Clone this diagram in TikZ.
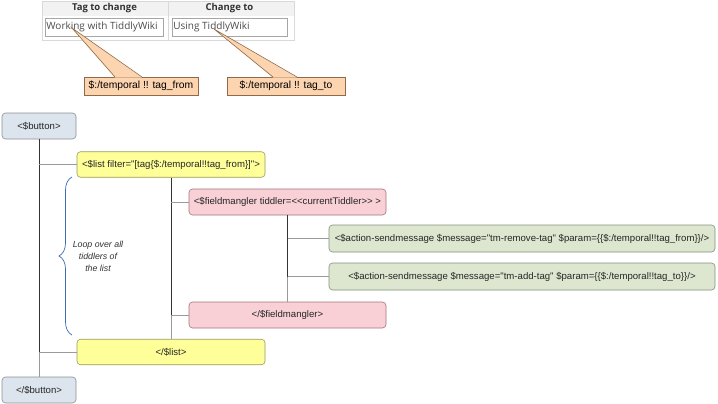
\documentclass[tikz,border=0pt]{standalone}
\usepackage{fontspec}
\setmainfont{Liberation Sans}[Ligatures=TeXOff]
\newfontfamily\uifont{Open Sans}[Ligatures=TeXOff]
\usetikzlibrary{decorations.pathreplacing}
\definecolor{btnfill}{HTML}{DCE4EE}
\definecolor{btndraw}{HTML}{8A8F96}
\definecolor{listfill}{HTML}{FFFF99}
\definecolor{listdraw}{HTML}{9A9A5C}
\definecolor{fmfill}{HTML}{F8D0D6}
\definecolor{fmdraw}{HTML}{A0767D}
\definecolor{actfill}{HTML}{DDE7CF}
\definecolor{actdraw}{HTML}{82907A}
\definecolor{callfill}{HTML}{FCD5B0}
\definecolor{calldraw}{HTML}{8E6A48}
\definecolor{bracecol}{HTML}{3D6BB5}
\definecolor{trunkcol}{HTML}{333333}
\definecolor{branchcol}{HTML}{9A9A9A}
\tikzset{
  box/.style={rectangle, rounded corners=3.5pt, inner sep=0pt, font=\fontsize{9.6}{11}\selectfont, text=black!85, line width=0.6pt},
  btnbox/.style={box, fill=btnfill, draw=btndraw, minimum width=74pt, minimum height=26pt},
  listbox/.style={box, fill=listfill, draw=listdraw, minimum width=188pt, minimum height=25.5pt},
  fmbox/.style={box, fill=fmfill, draw=fmdraw, minimum width=197pt, minimum height=26pt},
  actbox/.style={box, fill=actfill, draw=actdraw, minimum width=386pt, minimum height=27pt},
  callbox/.style={rectangle, fill=callfill, draw=calldraw, line width=0.6pt, inner sep=0pt, minimum height=18pt, font=\fontsize{10.3}{11}\selectfont},
  trunk/.style={draw=trunkcol, line width=0.7pt},
  branch/.style={draw=branchcol, line width=0.6pt},
  uihead/.style={font=\uifont\bfseries\fontsize{9.5}{10}\selectfont, text=black!80, inner sep=0pt},
  uitext/.style={font=\uifont\fontsize{10}{11}\selectfont, text=black!70, inner sep=0pt, anchor=west},
  inputbox/.style={draw=black!35, fill=white, line width=0.6pt, inner sep=0pt},
}
\begin{document}
\begin{tikzpicture}[x=1pt, y=-1pt]
\useasboundingbox[fill=white] (0,0) rectangle (718,404);

% --- top UI panel ---
\fill[black!5] (42,1) rectangle (294,16);
\draw[black!15, line width=0.6pt] (42,1) rectangle (294,40);
\draw[black!15, line width=0.6pt] (168,1) -- (168,40);
\node[uihead] (h1) at (104.5,8.5) {Tag to change};
\node[uihead] (h2) at (229.5,8.5) {Change to};
\node[inputbox, minimum width=118pt, minimum height=18pt] (in1) at (104,27) {};
\node[inputbox, minimum width=115pt, minimum height=18pt] (in2) at (229.5,27) {};
\node[uitext] (t1) at (in1.west) [xshift=1.5pt] {Working with TiddlyWiki};
\node[uitext] (t2) at (in2.west) [xshift=1.5pt] {Using TiddlyWiki};

% --- callouts ---
\coordinate (tip1) at (72,28);
\coordinate (tip2) at (214,29);
\node[callbox, minimum width=114pt] (c1) at (141,86) {\$:/temporal !! tag\_from};
\node[callbox, minimum width=118pt] (c2) at (286,86) {\$:/temporal !! tag\_to};
\fill[callfill] (tip1) -- (115,77.6) -- (142,77.6) -- cycle;
\draw[calldraw, line width=0.6pt] (115,77) -- (tip1) -- (142,77);
\fill[callfill] (tip2) -- (273,77.6) -- (297,77.6) -- cycle;
\draw[calldraw, line width=0.6pt] (273,77) -- (tip2) -- (297,77);

% --- tree nodes ---
\node[btnbox] (button) at (39,126) {<\$button>};
\node[listbox] (list) at (171,164.5) {<\$list filter="[tag\{\$:/temporal!!tag\_from\}]">};
\node[fmbox] (fm) at (287.5,202) {<\$fieldmangler tiddler=<<currentTiddler>{}> >};
\node[actbox] (a1) at (522,238.5) {<\$action-sendmessage \$message="tm-remove-tag" \$param=\{\{\$:/temporal!!tag\_from\}\}/>};
\node[actbox] (a2) at (522,276.5) {<\$action-sendmessage \$message="tm-add-tag" \$param=\{\{\$:/temporal!!tag\_to\}\}/>};
\node[fmbox] (efm) at (287.5,315) {</\$fieldmangler>};
\node[listbox] (elist) at (171,352) {</\$list>};
\node[btnbox] (ebutton) at (39,390) {</\$button>};

% --- connectors ---
\draw[trunk] (button.south) -- (button.south |- elist.west);
\draw[branch] (button.south |- elist.west) -- (ebutton.north);
\draw[branch] (button.south |- list.west) -- (list.west);
\draw[branch] (button.south |- elist.west) -- (elist.west);

\draw[trunk] (list.south) -- (list.south |- efm.west);
\draw[branch] (list.south |- efm.west) -- (elist.north);
\draw[branch] (list.south |- fm.west) -- (fm.west);
\draw[branch] (list.south |- efm.west) -- (efm.west);

\draw[trunk] (fm.south) -- (fm.south |- a2.west);
\draw[branch] (fm.south |- a2.west) -- (efm.north);
\draw[branch] (fm.south |- a1.west) -- (a1.west);
\draw[branch] (fm.south |- a2.west) -- (a2.west);

% --- brace and loop note ---
\coordinate (bracebot) at (72,335);
\coordinate (bracetop) at (72,177);
\draw[bracecol, line width=0.7pt, decorate, decoration={brace, amplitude=13pt, aspect=0.5}] (bracebot) -- (bracetop);
\node[align=center, font=\itshape\fontsize{8.8}{12}\selectfont, text=black!80, inner sep=0pt] (loop) at (98,256) {Loop over all\\tiddlers of\\the list};
\end{tikzpicture}
\end{document}
